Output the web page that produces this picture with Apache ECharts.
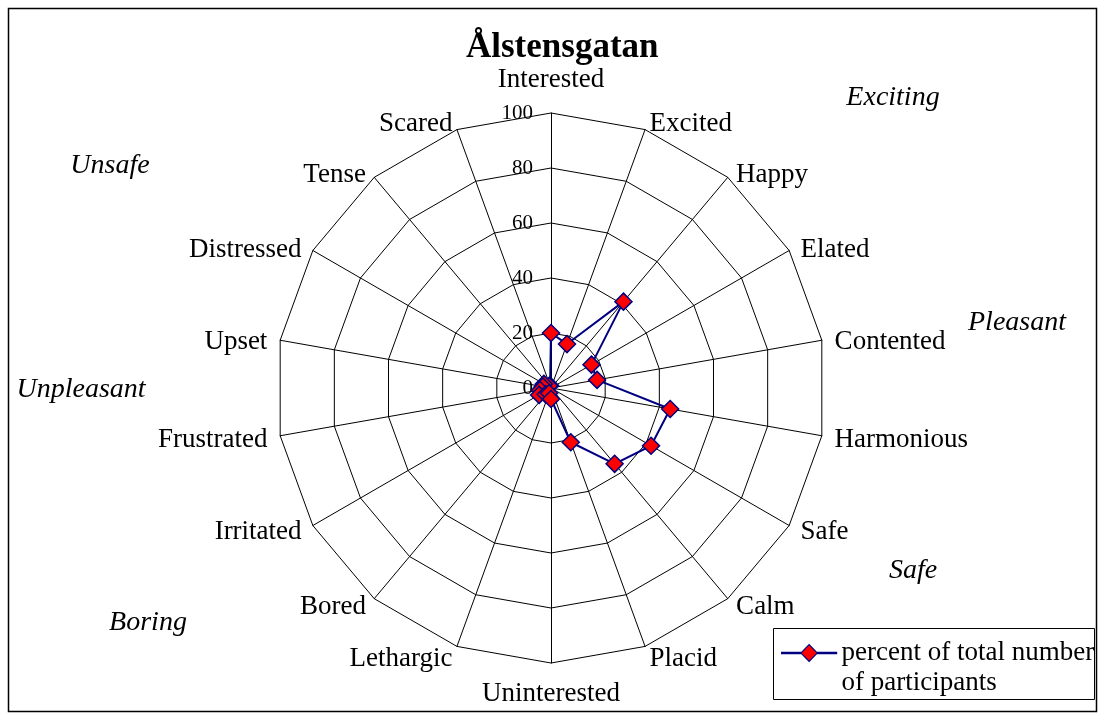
<!DOCTYPE html>
<html>
<head>
<meta charset="utf-8">
<script src="https://cdn.jsdelivr.net/npm/echarts@6/dist/echarts.min.js"></script>
<style>
  html, body { margin: 0; padding: 0; background: #fff; }
  #chart { width: 1105px; height: 720px; }
</style>
</head>
<body>
<div id="chart"></div>
<script>
// Emotion scales, listed clockwise starting at the top spoke
const emotions = ['Interested', 'Excited', 'Happy', 'Elated', 'Contented', 'Harmonious',
  'Safe', 'Calm', 'Placid', 'Uninterested', 'Lethargic', 'Bored', 'Irritated',
  'Frustrated', 'Upset', 'Distressed', 'Tense', 'Scared'];
// Share of participants choosing each scale (%)
const percentOfParticipants = [20, 17, 41, 17, 17, 44, 42, 36, 21, 4, 2, 3, 5, 4, 3, 3, 1, 1];
// Radial value ticks
const radialTicks = [0, 20, 40, 60, 80, 100];
// Mood-region captions around the web
const regionCaptions = ['Exciting', 'Unsafe', 'Pleasant', 'Unpleasant', 'Safe', 'Boring'];
const seriesName = 'percent of total number\nof participants';
const chartTitle = 'Ålstensgatan';

const serif = '"Liberation Serif", "Times New Roman", serif';
const nameFont = { fontFamily: serif, fontSize: 27, color: '#000' };
const n = emotions.length;
// ECharts lays radar spokes counter-clockwise, so walk the list backwards after the first
const order = emotions.map((_, i) => (n - i) % n);

// vertical nudge (px, downwards) for the spoke names, by spoke index clockwise from the top
const nameNudge = [0, 7, 8, 6, 4, 2, 0, -2, 0, 0, 0, -2, 0, 2, 4, 6, 8, 7];
const nudgeRich = {};
nameNudge.forEach(d => {
  if (d === 0) return;
  const key = (d > 0 ? 'dn' : 'up') + Math.abs(d);
  nudgeRich[key] = Object.assign({ padding: d > 0 ? [2 * d, 0, 0, 0] : [0, 0, -2 * d, 0] }, nameFont);
});
const nameIndex = {};
emotions.forEach((e, i) => { nameIndex[e] = i; });

const indicators = order.map((k, i) => {
  const ind = { name: emotions[k], min: radialTicks[0], max: radialTicks[radialTicks.length - 1] };
  if (i === 0) { ind.axisLabel = { show: true }; ind.nameGap = 20; }   // top spoke carries the value labels
  if (k === n / 2) ind.nameGap = 17;                                    // bottom spoke
  return ind;
});

// caption placement (centre points)
const captionPos = {
  Exciting: [893, 98], Unsafe: [110, 166], Pleasant: [1017, 323],
  Unpleasant: [81, 390], Safe: [913, 571], Boring: [148, 623]
};

const chart = echarts.init(document.getElementById('chart'), null, { renderer: 'canvas' });
chart.setOption({
  backgroundColor: '#fff',
  animation: false,
  title: {
    text: chartTitle,
    left: 461, top: 25,
    textStyle: { fontFamily: serif, fontWeight: 'bold', fontSize: 35, color: '#000' }
  },
  legend: {
    data: [seriesName],
    formatter: name => '\n' + name,   // blank first row keeps the marker level with the first text line
    left: 781, top: 608,
    padding: 0,
    itemWidth: 55, itemHeight: 17,
    selectedMode: false,
    icon: 'path://M0,7.9L19.9,7.9L27.5,0L35.1,7.9L55,7.9L55,9.1L35.1,9.1L27.5,17L19.9,9.1L0,9.1Z',
    itemStyle: { color: '#ff0000', borderColor: '#000080', borderWidth: 1.2 },
    textStyle: { fontFamily: serif, fontSize: 27, color: '#000', lineHeight: 30 }
  },
  radar: {
    center: [551, 388],
    radius: 275,
    startAngle: 90,
    shape: 'polygon',
    splitNumber: radialTicks.length - 1,
    nameGap: 13,
    indicator: indicators,
    axisName: Object.assign({
      rich: nudgeRich,
      formatter: name => {
        const d = nameNudge[nameIndex[name]];
        return d === 0 ? name : '{' + (d > 0 ? 'dn' : 'up') + Math.abs(d) + '|' + name + '}';
      }
    }, nameFont),
    axisLine: { lineStyle: { color: '#000', width: 1 } },
    splitLine: { lineStyle: { color: '#000', width: 1 } },
    splitArea: { show: false },
    axisTick: { show: false },
    axisLabel: { show: false, color: '#000', fontFamily: serif, fontSize: 21, margin: 18 }
  },
  series: [{
    type: 'radar',
    name: seriesName,
    symbol: 'diamond',
    symbolSize: 17,
    lineStyle: { color: '#000080', width: 2 },
    itemStyle: { color: '#ff0000', borderColor: '#000080', borderWidth: 1.5 },
    data: [{ name: seriesName, value: order.map(k => percentOfParticipants[k]) }]
  }],
  graphic: [
    {
      type: 'rect', silent: true, z: -1,
      shape: { x: 8.5, y: 8.5, width: 1088, height: 703 },
      style: { fill: 'none', stroke: '#000', lineWidth: 1.5 }
    },
    {
      type: 'rect', silent: true, z: -1,
      shape: { x: 773.5, y: 628.5, width: 321, height: 71 },
      style: { fill: 'none', stroke: '#000', lineWidth: 1 }
    }
  ].concat(regionCaptions.map(t => ({
    type: 'text', silent: true,
    x: captionPos[t][0], y: captionPos[t][1],
    style: {
      text: t, fill: '#000', align: 'center', verticalAlign: 'middle',
      font: 'italic 28px ' + serif
    }
  })))
});
</script>
</body>
</html>
